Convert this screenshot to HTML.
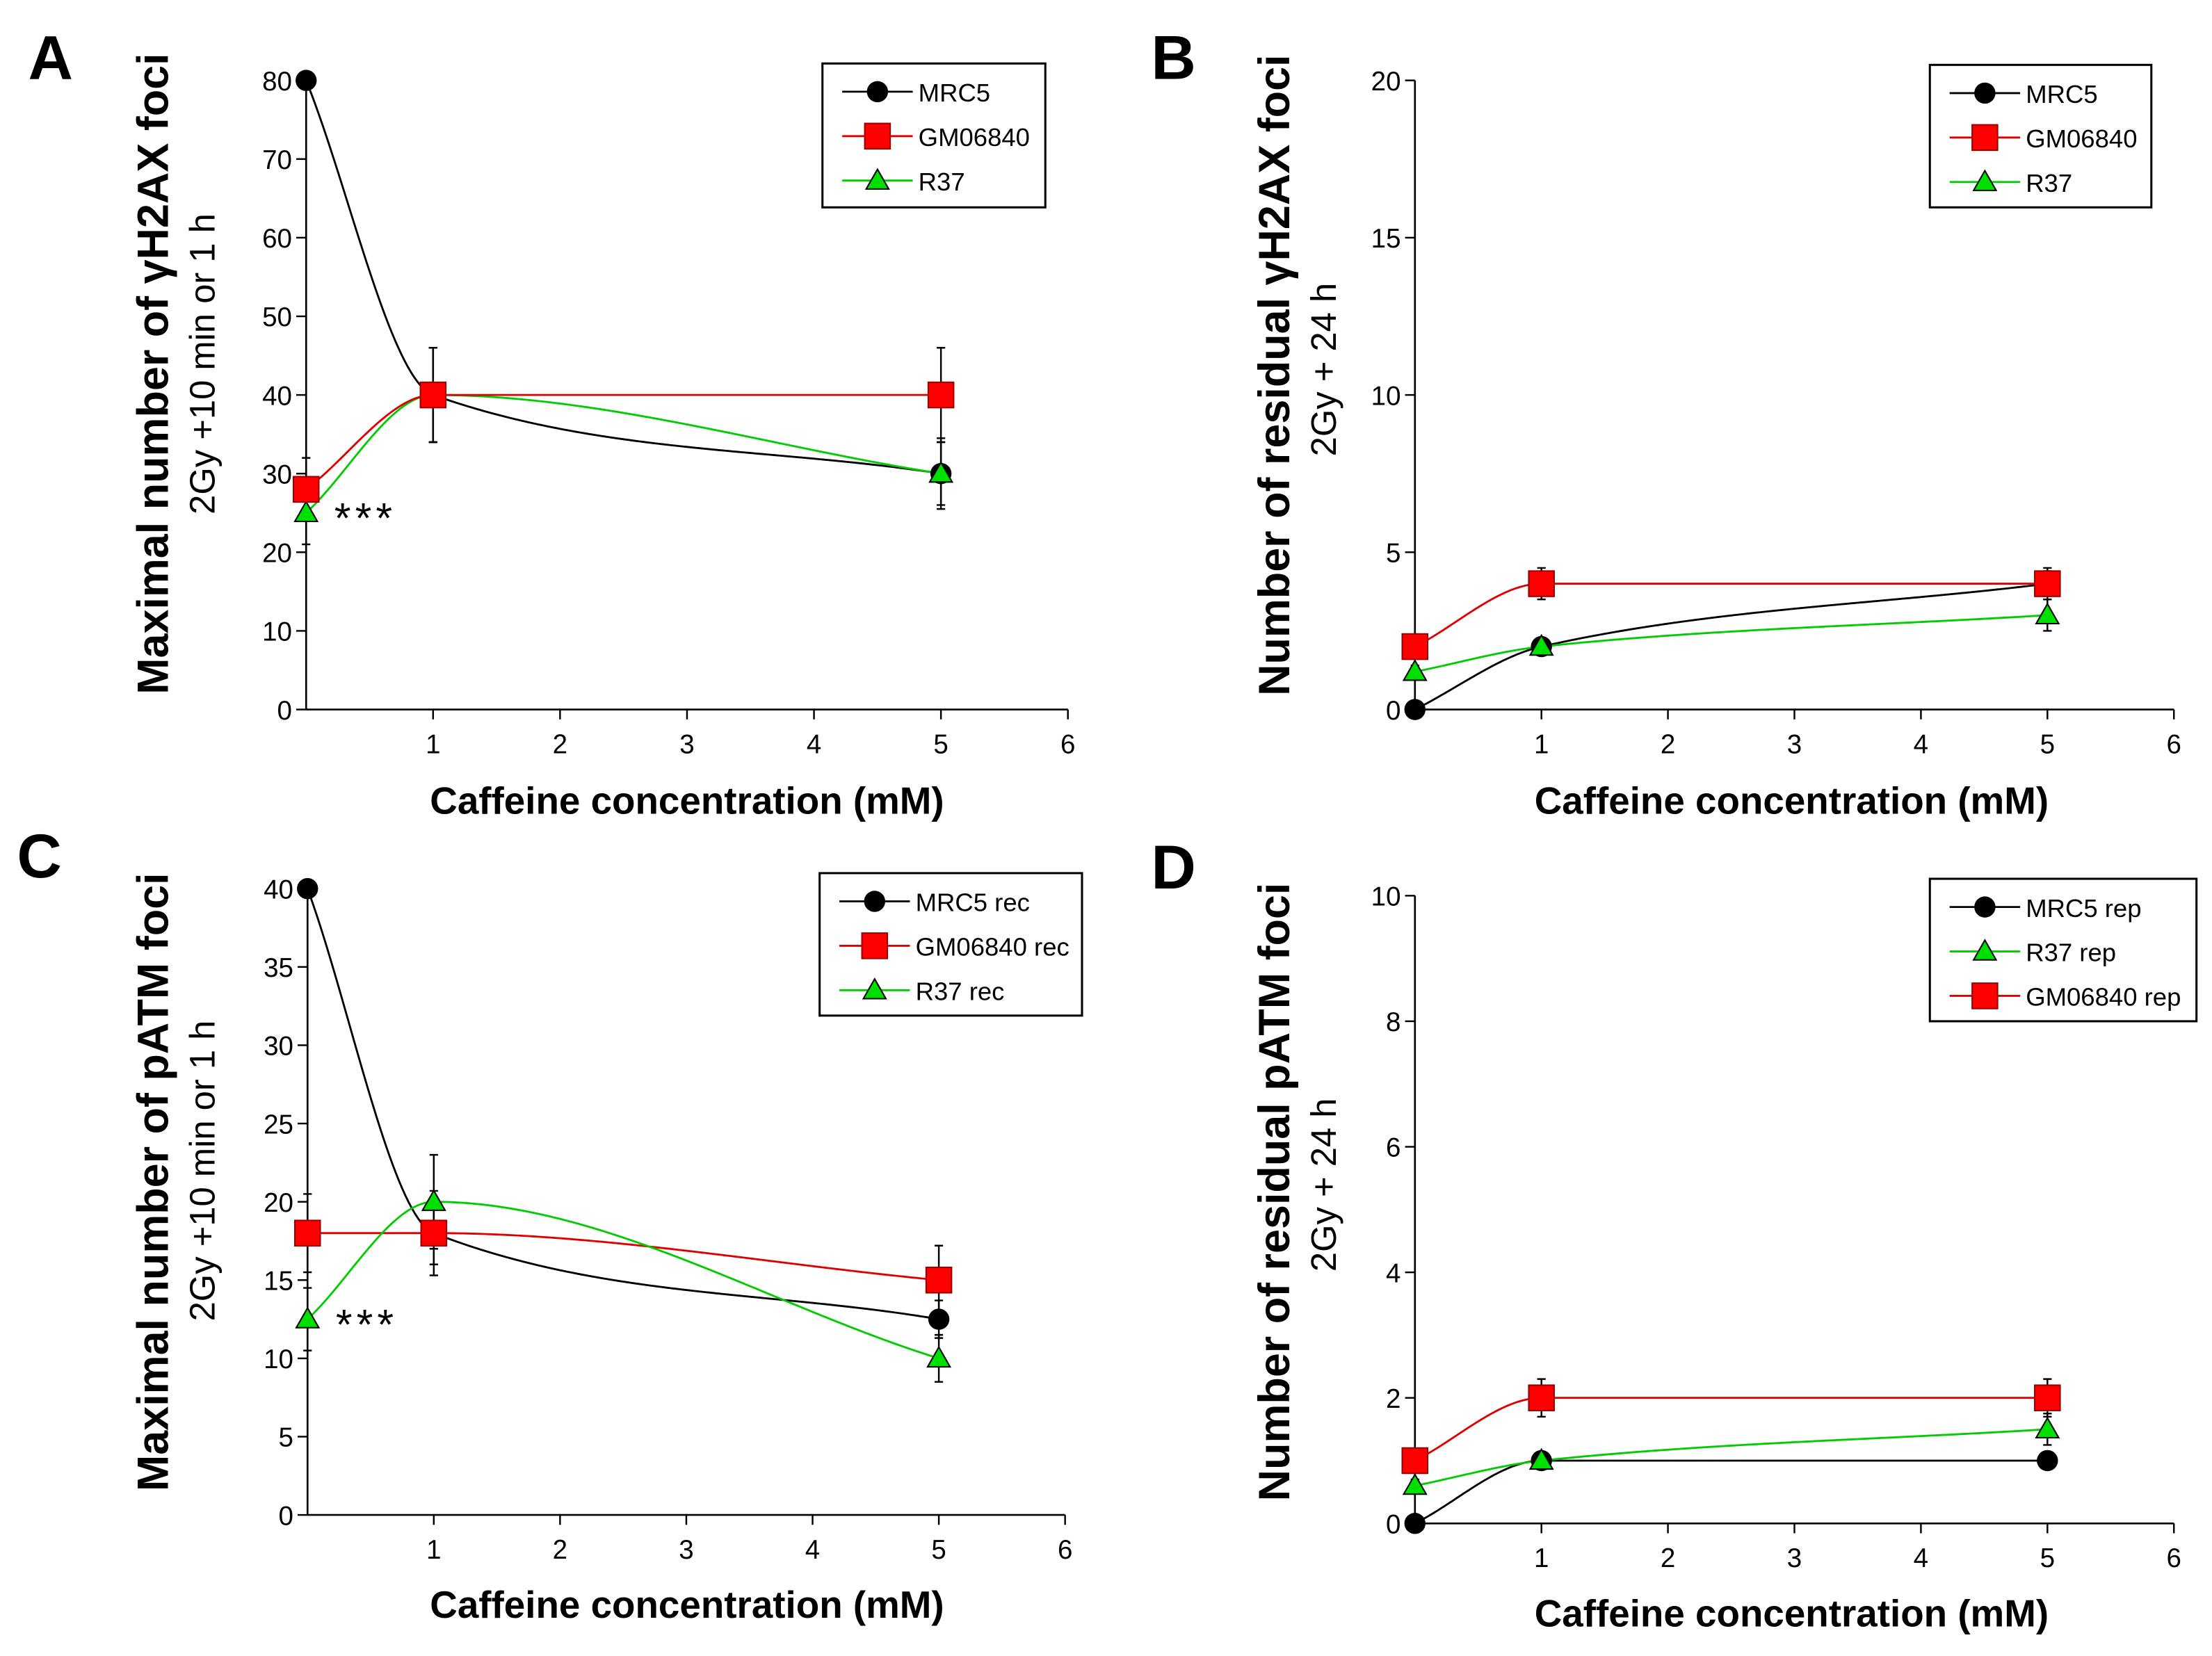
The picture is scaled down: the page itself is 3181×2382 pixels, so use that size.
<!DOCTYPE html>
<html><head><meta charset="utf-8"><style>
html,body{margin:0;padding:0;background:#fff;}
svg{display:block;}
text{font-family:"Liberation Sans",sans-serif;}
</style></head><body>
<svg id="fig" xmlns="http://www.w3.org/2000/svg" width="3181" height="2382" viewBox="0 0 1568 1174" preserveAspectRatio="none"></svg>
<script>
const xValues = [0, 1, 5];
const xTicks = [1, 2, 3, 4, 5, 6];
const seriesNames = ["MRC5", "GM06840", "R37"];
const aMRC5 = [80, 40, 30], aGM = [28, 40, 40], aR37 = [25, 40, 30];
const aErrMRC5 = [0, 6, 4.5], aErrGM = [4, 6, 6], aErrR37 = [4, 6, 4];
const bMRC5 = [0, 2, 4], bGM = [2, 4, 4], bR37 = [1.2, 2, 3];
const bErrMRC5 = [0, 0.2, 0.4], bErrGM = [0.3, 0.5, 0.5], bErrR37 = [0.2, 0.2, 0.5];
const cMRC5 = [40, 18, 12.5], cGM = [18, 18, 15], cR37 = [12.5, 20, 10];
const cErrMRC5 = [0, 2, 1.2], cErrGM = [2.5, 2.7, 2.2], cErrR37 = [2, 3, 1.5];
const dMRC5 = [0, 1, 1], dGM = [1, 2, 2], dR37 = [0.6, 1, 1.5];
const dErrMRC5 = [0, 0.05, 0.05], dErrGM = [0.1, 0.3, 0.3], dErrR37 = [0.1, 0.1, 0.25];
const aYTicks = [0,10,20,30,40,50,60,70,80];
const bYTicks = [0,5,10,15,20];
const cYTicks = [0,5,10,15,20,25,30,35,40];
const dYTicks = [0,2,4,6,8,10];

const NS = "http://www.w3.org/2000/svg";
const svg = document.getElementById('fig');
function el(tag, attrs, parent, txt){
  const e = document.createElementNS(NS, tag);
  for (const k in attrs) e.setAttribute(k, attrs[k]);
  if (txt !== undefined) e.textContent = txt;
  (parent || svg).appendChild(e);
  return e;
}
const LINE = {MRC5:"#000", GM06840:"#e00000", R37:"#00cc00"};

function spline(xs, ys){
  const n=xs.length, dl=[], m=[];
  for(let i=0;i<n-1;i++) dl[i]=(ys[i+1]-ys[i])/(xs[i+1]-xs[i]);
  m[0]=dl[0]; m[n-1]=dl[n-2];
  for(let i=1;i<n-1;i++){
    if(dl[i-1]*dl[i]<=0) m[i]=0;
    else { const w1=2*(xs[i+1]-xs[i])+(xs[i]-xs[i-1]), w2=(xs[i+1]-xs[i])+2*(xs[i]-xs[i-1]);
      m[i]=(w1+w2)/(w1/dl[i-1]+w2/dl[i]); }
  }
  for(let i=0;i<n-1;i++){ if(dl[i]===0){m[i]=0;m[i+1]=0;} }
  return function(x){
    let j=0; while(j<n-2 && x>xs[j+1]) j++;
    const h=xs[j+1]-xs[j], t=(x-xs[j])/h, t2=t*t, t3=t2*t;
    return (2*t3-3*t2+1)*ys[j]+(t3-2*t2+t)*h*m[j]+(-2*t3+3*t2)*ys[j+1]+(t3-t2)*h*m[j+1];
  };
}

function marker(g, name, x, y){
  let m;
  if(name==="MRC5") m = el('circle',{cx:x,cy:y,r:7.5,fill:"#000"},g);
  else if(name==="GM06840") m = el('rect',{x:x-9,y:y-9,width:18,height:18,fill:"#ff0000",stroke:"#900",'stroke-width':1},g);
  else m = el('polygon',{points:`${x},${y-8} ${x-8},${y+6} ${x+8},${y+6}`,fill:"#00e000",stroke:"#000",'stroke-width':1},g);
  
  
}

function panel(p){
  const g = el('g',{});
  const X = v => p.x0 + v*(p.x6-p.x0)/6;
  const Y = v => p.y0 - v*(p.y0-p.yTop)/p.yMax;
  el('text',{x:p.lx,y:p.ly,'font-size':44,'font-weight':'bold',},g,p.id);
  el('line',{x1:p.x0,y1:p.y0,x2:p.x6,y2:p.y0,stroke:"#000",'stroke-width':1.3,},g);
  el('line',{x1:p.x0,y1:p.y0,x2:p.x0,y2:p.yTop,stroke:"#000",'stroke-width':1.3,},g);
  xTicks.forEach(t=>{
    el('line',{x1:X(t),y1:p.y0,x2:X(t),y2:p.y0+7,stroke:"#000",'stroke-width':1.2},g);
    el('text',{x:X(t),y:p.y0+31,'font-size':19,'text-anchor':'middle',},g,String(t));
  });
  p.yTicks.forEach(t=>{
    el('line',{x1:p.x0-7,y1:Y(t),x2:p.x0,y2:Y(t),stroke:"#000",'stroke-width':1.2},g);
    el('text',{x:p.x0-10,y:Y(t)+7,'font-size':19,'text-anchor':'end',},g,String(t));
  });
  el('text',{x:p.titleCx,y:p.xTitleY,'font-size':27,'font-weight':'bold','text-anchor':'middle',},g,"Caffeine concentration (mM)");
  el('text',{transform:`translate(${p.yt1x},${p.yt1y}) rotate(-90)`,'font-size':31,'font-weight':'bold','text-anchor':'middle',},g,p.yt1);
  el('text',{transform:`translate(${p.yt2x},${p.yt2y}) rotate(-90)`,'font-size':25,'text-anchor':'middle',},g,p.yt2);
  p.series.forEach(s=>{
    const f = spline(xValues, s.vals);
    let d = "";
    for(let i=0;i<=200;i++){ const xv=5*i/200; d += (i?"L":"M")+X(xv).toFixed(2)+","+Y(f(xv)).toFixed(2); }
    const path = el('path',{d:d,fill:"none",stroke:LINE[s.name],'stroke-width':1.4},g);
    
    
    s.vals.forEach((v,i)=>{
      const e = s.err[i];
      if(e>0){
        const eb = el('path',{d:`M${X(xValues[i])},${Y(v+e)}V${Y(v-e)}M${X(xValues[i])-3},${Y(v+e)}h6M${X(xValues[i])-3},${Y(v-e)}h6`,stroke:"#000",'stroke-width':1.2,fill:"none"},g);
        
        
      }
    });
  });
  p.series.forEach(s=>{ s.vals.forEach((v,i)=>marker(g, s.name, X(xValues[i]), Y(v))); });
  if(p.stars) el('text',{x:p.x0+20,y:Y(p.stars)+ 14,'font-size':30,'letter-spacing':3,},g,"***");
  const lg = el('g',{},g);
  el('rect',{x:p.leg[0],y:p.leg[1],width:p.leg[2],height:p.leg[3],fill:"#fff",stroke:"#000",'stroke-width':1.5},lg);
  p.legOrder.forEach((name,i)=>{
    const yy = p.leg[1]+20+i*31.5, lx = p.leg[0]+14;
    const eg = el('g',{},lg);
    el('line',{x1:lx,y1:yy,x2:lx+50,y2:yy,stroke:LINE[name],'stroke-width':1.4},eg);
    marker(eg,name,lx+25,yy);
    el('text',{x:lx+54,y:yy+7,'font-size':18},eg,name+p.suffix);
  });
}

panel({id:"A",lx:20,ly:56,x0:217,x6:757,y0:503,yTop:57,yMax:80,yTicks:aYTicks,titleCx:487,xTitleY:577,
  yt1:"Maximal number of γH2AX foci",yt1x:119,yt1y:265,yt2:"2Gy +10 min or 1 h",yt2x:152,yt2y:258,
  series:[{name:"MRC5",vals:aMRC5,err:aErrMRC5},{name:"R37",vals:aR37,err:aErrR37},{name:"GM06840",vals:aGM,err:aErrGM}],
  stars:25,leg:[583,45,158,102],legOrder:["MRC5","GM06840","R37"],suffix:""});
panel({id:"B",lx:816,ly:56,x0:1003,x6:1541,y0:503,yTop:57,yMax:20,yTicks:bYTicks,titleCx:1270,xTitleY:577,
  yt1:"Number of residual γH2AX foci",yt1x:914,yt1y:266,yt2:"2Gy + 24 h",yt2x:947,yt2y:262,
  series:[{name:"MRC5",vals:bMRC5,err:bErrMRC5},{name:"R37",vals:bR37,err:bErrR37},{name:"GM06840",vals:bGM,err:bErrGM}],
  leg:[1368,46,157,101],legOrder:["MRC5","GM06840","R37"],suffix:""});
panel({id:"C",lx:12,ly:622,x0:218,x6:755,y0:1074,yTop:630,yMax:40,yTicks:cYTicks,titleCx:487,xTitleY:1147,
  yt1:"Maximal number of pATM foci",yt1x:119,yt1y:838,yt2:"2Gy +10 min or 1 h",yt2x:152,yt2y:830,
  series:[{name:"MRC5",vals:cMRC5,err:cErrMRC5},{name:"GM06840",vals:cGM,err:cErrGM},{name:"R37",vals:cR37,err:cErrR37}],
  stars:12.5,leg:[581,619,186,101],legOrder:["MRC5","GM06840","R37"],suffix:" rec"});
panel({id:"D",lx:816,ly:630,x0:1003,x6:1541,y0:1080,yTop:635,yMax:10,yTicks:dYTicks,titleCx:1270,xTitleY:1153,
  yt1:"Number of residual pATM foci",yt1x:914,yt1y:845,yt2:"2Gy + 24 h",yt2x:947,yt2y:840,
  series:[{name:"MRC5",vals:dMRC5,err:dErrMRC5},{name:"R37",vals:dR37,err:dErrR37},{name:"GM06840",vals:dGM,err:dErrGM}],
  leg:[1368,623,189,101],legOrder:["MRC5","R37","GM06840"],suffix:" rep"});
</script>
</body></html>
